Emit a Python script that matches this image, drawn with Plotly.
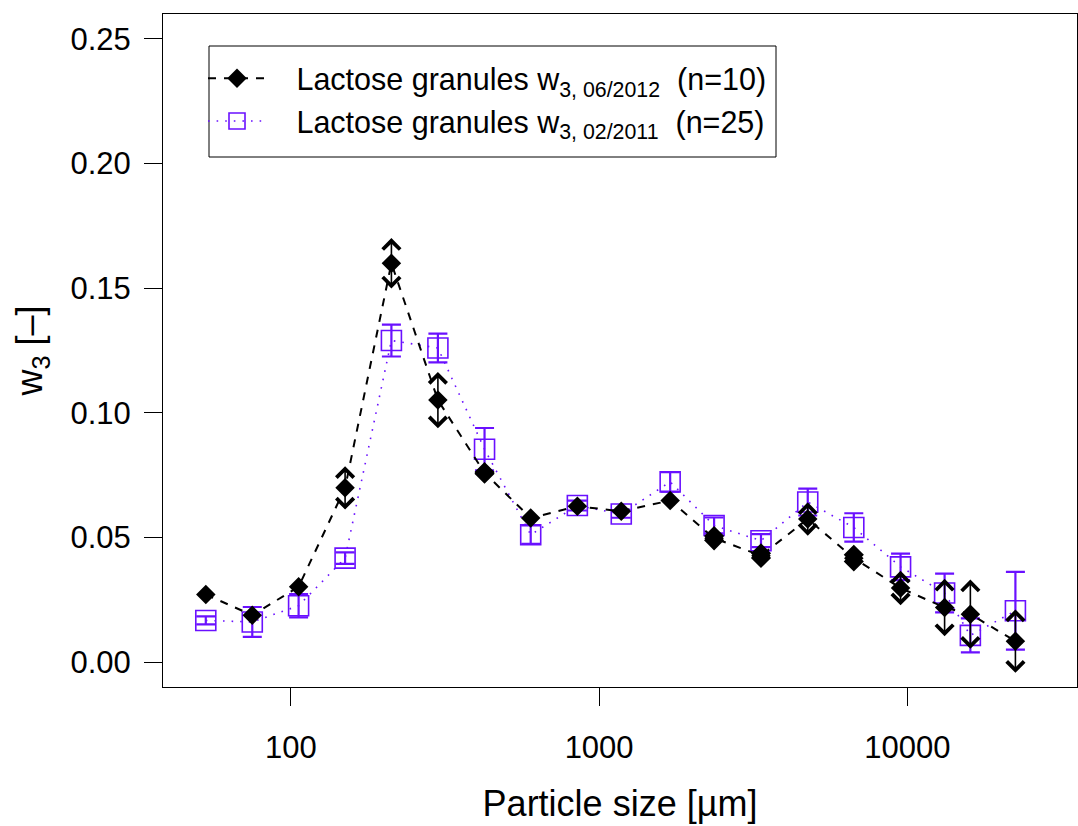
import math
import plotly.graph_objects as go

# ---- data ----
particle_size = [53, 75, 106, 150, 212, 300, 425, 600, 850, 1180, 1700,
                 2360, 3350, 4750, 6700, 9500, 13200, 16000, 22400]

w3_2012 = [0.0271, 0.0188, 0.0302, 0.0699, 0.1600, 0.1051, 0.0759, 0.0578,
           0.0625, 0.0605, 0.0648, 0.0497, 0.0427, 0.0574, 0.0417, 0.0297,
           0.0219, 0.0192, 0.0084]
err_2012 = [0.0, 0.0, 0.002, 0.0087, 0.0101, 0.0113, 0.0044, 0.0, 0.0, 0.0,
            0.002, 0.0049, 0.0050, 0.0067, 0.0054, 0.0069, 0.0115, 0.0139,
            0.0127]

w3_2011 = [0.0167, 0.0161, 0.0226, 0.0417, 0.1290, 0.1260, 0.0854, 0.0511,
           0.0628, 0.0594, 0.0723, 0.0548, 0.0487, 0.0642, 0.0540, 0.0382,
           0.0277, 0.0107, 0.0206]
err_2011 = [0.0016, 0.0060, 0.0047, 0.0023, 0.0064, 0.0058, 0.0085, 0.0037,
            0.0020, 0.0015, 0.0039, 0.0032, 0.0026, 0.0054, 0.0057, 0.0053,
            0.0078, 0.0068, 0.0156]

x_ticks = [100, 1000, 10000]
x_ticktext = ["100", "1000", "10000"]
y_ticks = [0.00, 0.05, 0.10, 0.15, 0.20, 0.25]
y_ticktext = ["0.00", "0.05", "0.10", "0.15", "0.20", "0.25"]

name_2012 = "\u00a0\u00a0\u00a0Lactose granules w<sub>3, 06/2012</sub>\u00a0\u00a0(n=10)"
name_2011 = "\u00a0\u00a0\u00a0Lactose granules w<sub>3, 02/2011</sub>\u00a0\u00a0(n=25)"

PURPLE = "#6A10FF"
FONT = "Liberation Sans, Arial, sans-serif"

W, H = 1078, 826
ML, MR, MT, MB = 163, 1, 14, 139
PW, PH = W - ML - MR, H - MT - MB


def px_to_paper_x(px):
    return (px - ML) / PW


def px_to_paper_y(py):
    return 1 - (py - MT) / PH


fig = go.Figure()

fig.add_trace(go.Scatter(
    x=particle_size, y=w3_2011, name=name_2011, mode="lines+markers",
    line=dict(color=PURPLE, width=1.6, dash="1.6px,7px"),
    marker=dict(symbol="square-open", size=20, color=PURPLE,
                line=dict(width=1.6, color=PURPLE)),
    error_y=dict(type="data", array=err_2011, visible=True,
                 color=PURPLE, thickness=2.2, width=9.5),
    legendrank=2,
))

fig.add_trace(go.Scatter(
    x=particle_size, y=w3_2012, name=name_2012, mode="lines+markers",
    line=dict(color="black", width=2, dash="8px,8px"),
    marker=dict(symbol="diamond", size=15, color="black"),
    legendrank=1,
))

# double-headed arrow error bars for the 2012 series
annotations = []
for xv, yv, ev in zip(particle_size, w3_2012, err_2012):
    if ev <= 0:
        continue
    lx = math.log10(xv)
    for direction in (1, -1):
        annotations.append(dict(
            x=lx, y=yv + direction * ev, ax=lx, ay=yv,
            xref="x", yref="y", axref="x", ayref="y",
            text="", showarrow=True, arrowhead=4, arrowsize=2.1,
            arrowwidth=1.6, arrowcolor="black", standoff=0, startstandoff=0,
        ))

# legend frame
shapes = [dict(type="rect", xref="paper", yref="paper",
               x0=px_to_paper_x(209), x1=px_to_paper_x(776),
               y0=px_to_paper_y(157), y1=px_to_paper_y(46),
               line=dict(color="black", width=1), fillcolor="white",
               layer="below")]

fig.update_layout(
    width=W, height=H,
    margin=dict(l=ML, r=MR, t=MT, b=MB),
    paper_bgcolor="white", plot_bgcolor="white",
    font=dict(family=FONT, color="black", size=31),
    showlegend=True,
    legend=dict(x=px_to_paper_x(203), y=px_to_paper_y(52),
                xanchor="left", yanchor="top",
                bgcolor="rgba(0,0,0,0)", borderwidth=0,
                font=dict(size=30.5, family=FONT), itemwidth=58,
                tracegroupgap=0),
    annotations=annotations,
    shapes=shapes,
    xaxis=dict(
        type="log", range=[1.5855, 4.55],
        tickvals=x_ticks, ticktext=x_ticktext,
        ticks="outside", ticklen=18, tickwidth=1, tickcolor="black",
        tickfont=dict(size=31), ticklabelstandoff=15,
        showline=True, linecolor="black", linewidth=1, mirror=True,
        showgrid=False, zeroline=False,
        title=dict(text="Particle size [\u00b5m]", font=dict(size=36), standoff=26),
    ),
    yaxis=dict(
        range=[-0.01, 0.26],
        tickvals=y_ticks, ticktext=y_ticktext,
        ticks="outside", ticklen=18, tickwidth=1, tickcolor="black",
        tickfont=dict(size=31), ticklabelstandoff=7,
        showline=True, linecolor="black", linewidth=1, mirror=True,
        showgrid=False, zeroline=False,
        title=dict(text="w<sub>3</sub> [\u2013]", font=dict(size=36), standoff=16),
    ),
)

fig.write_html("out.html")
